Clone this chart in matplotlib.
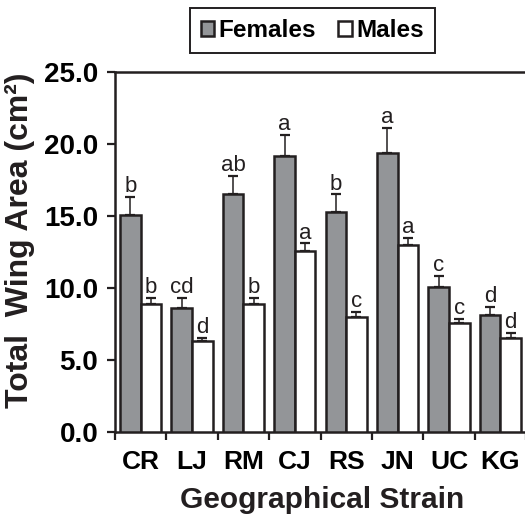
import matplotlib
matplotlib.use("Agg")
import matplotlib.pyplot as plt
import numpy as np

strains = ["CR", "LJ", "RM", "CJ", "RS", "JN", "UC", "KG"]
females = [15.1, 8.6, 16.5, 19.2, 15.3, 19.4, 10.1, 8.1]
females_err = [1.2, 0.7, 1.3, 1.45, 1.2, 1.7, 0.75, 0.6]
males = [8.9, 6.3, 8.9, 12.6, 8.0, 13.0, 7.55, 6.55]
males_err = [0.4, 0.25, 0.4, 0.5, 0.35, 0.5, 0.3, 0.35]
females_grp = ["b", "cd", "ab", "a", "b", "a", "c", "d"]
males_grp = ["b", "d", "b", "a", "c", "a", "c", "d"]
yticks = [0.0, 5.0, 10.0, 15.0, 20.0, 25.0]

plt.rcParams['font.family'] = ['Liberation Sans', 'DejaVu Sans']

fig = plt.figure(figsize=(5.25, 5.18), dpi=100)
ax = fig.add_axes([0.219, 0.166, 0.783, 0.695])

x = np.arange(len(strains)) + 0.5
w = 0.4
lw = 1.8

b1 = ax.bar(x - w / 2, females, w, color="#939598", edgecolor="#231f20",
            linewidth=lw, zorder=3, label="Females")
b2 = ax.bar(x + w / 2, males, w, color="white", edgecolor="#231f20",
            linewidth=lw, zorder=3, label="Males")

for xs, vals, errs in [(x - w / 2, females, females_err), (x + w / 2, males, males_err)]:
    ax.errorbar(xs, vals, yerr=[np.zeros(len(errs)), errs], fmt="none",
                ecolor="#231f20", elinewidth=1.1, capsize=3.6, capthick=1.6, zorder=2)

for xs, vals, errs, grp in [(x - w / 2, females, females_err, females_grp),
                            (x + w / 2, males, males_err, males_grp)]:
    for xi, v, e, g in zip(xs, vals, errs, grp):
        ax.annotate(g, (xi, v + e), xytext=(0, 3.5), textcoords="offset points",
                    ha="center", va="baseline", fontsize=16, color="#231f20")

ax.set_xlim(0, len(strains))
ax.set_ylim(0, 25)
ax.set_yticks(yticks)
ax.set_yticklabels([f"{t:.1f}" for t in yticks], fontsize=20, fontweight="bold")
ax.set_xticks(np.arange(len(strains) + 1))
ax.set_xticklabels([])
ax.set_xticks(x, minor=True)
ax.set_xticklabels(strains, minor=True, fontsize=19, fontweight="bold")
ax.tick_params(axis="x", which="minor", length=0, pad=13)
ax.tick_params(axis="both", which="major", direction="out", length=6, width=1.6,
               color="#231f20")
ax.tick_params(axis="y", pad=6)

for s in ["left", "bottom", "top"]:
    ax.spines[s].set_linewidth(lw)
    ax.spines[s].set_color("#231f20")
ax.spines["right"].set_visible(False)

fig.text(0.038, 1 - 240 / 518, "Total  Wing Area (cm²)", rotation=90,
         ha="center", va="center", fontsize=23, fontweight="bold", color="#231f20")
fig.text(322 / 525, 1 - 500 / 518, "Geographical Strain",
         ha="center", va="center", fontsize=21.5, fontweight="bold", color="#231f20")

leg = fig.legend(handles=[b1, b2], loc="center", bbox_to_anchor=(0.595, 0.941),
                 ncol=2, fancybox=False, edgecolor="#231f20", framealpha=1,
                 handlelength=0.55, handleheight=0.55, handletextpad=0.2,
                 columnspacing=0.9, borderpad=0.45,
                 prop={"size": 17.5, "weight": "bold"})
leg.get_frame().set_linewidth(1.4)

fig.savefig("out.png", dpi=100)
